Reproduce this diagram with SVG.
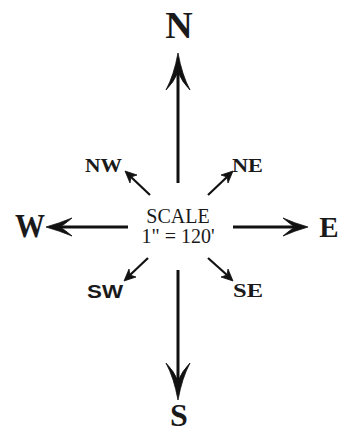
<svg xmlns="http://www.w3.org/2000/svg" width="343" height="433" viewBox="0 0 343 433">
<style>
.big{font-family:"Liberation Serif",serif;font-weight:bold;fill:#1a1a1a;text-anchor:middle}
.mid{font-family:"Liberation Serif",serif;font-weight:bold;fill:#1a1a1a;font-size:19px;text-anchor:middle}
.sc{font-family:"Liberation Serif",serif;fill:#1a1a1a;font-size:20px;text-anchor:middle}
.shaft{stroke:#111;stroke-width:3;fill:none}
.thin{stroke:#111;stroke-width:2.2;fill:none}
.head{fill:#111;stroke:#111;stroke-width:0.8;stroke-linejoin:round}
</style>
<rect width="343" height="433" fill="#fff"/>
<g id="connectors">
  <line class="shaft" x1="178" y1="183" x2="178" y2="62"/>
  <path class="head" d="M178,53 Q182,75 190,90 Q182,82 178,72 Q174,82 166,90 Q174,75 178,53 Z"/>
  <line class="shaft" x1="178" y1="270" x2="178" y2="392"/>
  <path class="head" d="M178,400 Q174,378 166,363 Q174,371 178,381 Q182,371 190,363 Q182,378 178,400 Z"/>
  <line class="shaft" x1="128" y1="227" x2="54" y2="227"/>
  <path class="head" d="M46,227 Q60,223 72,218 Q65,224 60,227 Q65,230 72,236 Q60,231 46,227 Z"/>
  <line class="shaft" x1="233" y1="227" x2="300" y2="227"/>
  <path class="head" d="M308,227 Q294,223 283,218 Q290,224 295,227 Q290,230 283,236 Q294,231 308,227 Z"/>
  <line class="thin" x1="150" y1="195" x2="131" y2="177"/>
  <path class="head" d="M125,171 L137,175 L131,177 L130,183 Z"/>
  <line class="thin" x1="208" y1="195" x2="227" y2="177"/>
  <path class="head" d="M233,171 L228,183 L227,177 L221,175 Z"/>
  <line class="thin" x1="148" y1="258" x2="130" y2="275"/>
  <path class="head" d="M124,281 L129,269 L130,275 L136,277 Z"/>
  <line class="thin" x1="208" y1="258" x2="227" y2="275"/>
  <path class="head" d="M233,281 L221,277 L227,275 L228,269 Z"/>
</g>
<g id="N"><text class="big" x="179" y="38" font-size="38">N</text></g>
<g id="S"><text class="big" x="179" y="426" font-size="32">S</text></g>
<g id="W"><text class="big" x="30" y="237" font-size="33" textLength="30" lengthAdjust="spacingAndGlyphs">W</text></g>
<g id="E"><text class="big" x="329" y="237" font-size="29">E</text></g>
<g id="NW"><text class="mid" x="103.5" y="172" textLength="37" lengthAdjust="spacingAndGlyphs">NW</text></g>
<g id="NE"><text class="mid" x="247.5" y="172" textLength="31" lengthAdjust="spacingAndGlyphs">NE</text></g>
<g id="SW"><text x="105" y="298" font-family="Liberation Sans, sans-serif" font-weight="bold" font-size="19" fill="#1a1a1a" text-anchor="middle" textLength="36" lengthAdjust="spacingAndGlyphs">SW</text></g>
<g id="SE"><text class="mid" x="248" y="297" textLength="30" lengthAdjust="spacingAndGlyphs">SE</text></g>
<g id="scale">
  <text class="sc" x="178" y="223">SCALE</text>
  <text class="sc" x="178" y="243">1" = 120'</text>
</g>
</svg>
